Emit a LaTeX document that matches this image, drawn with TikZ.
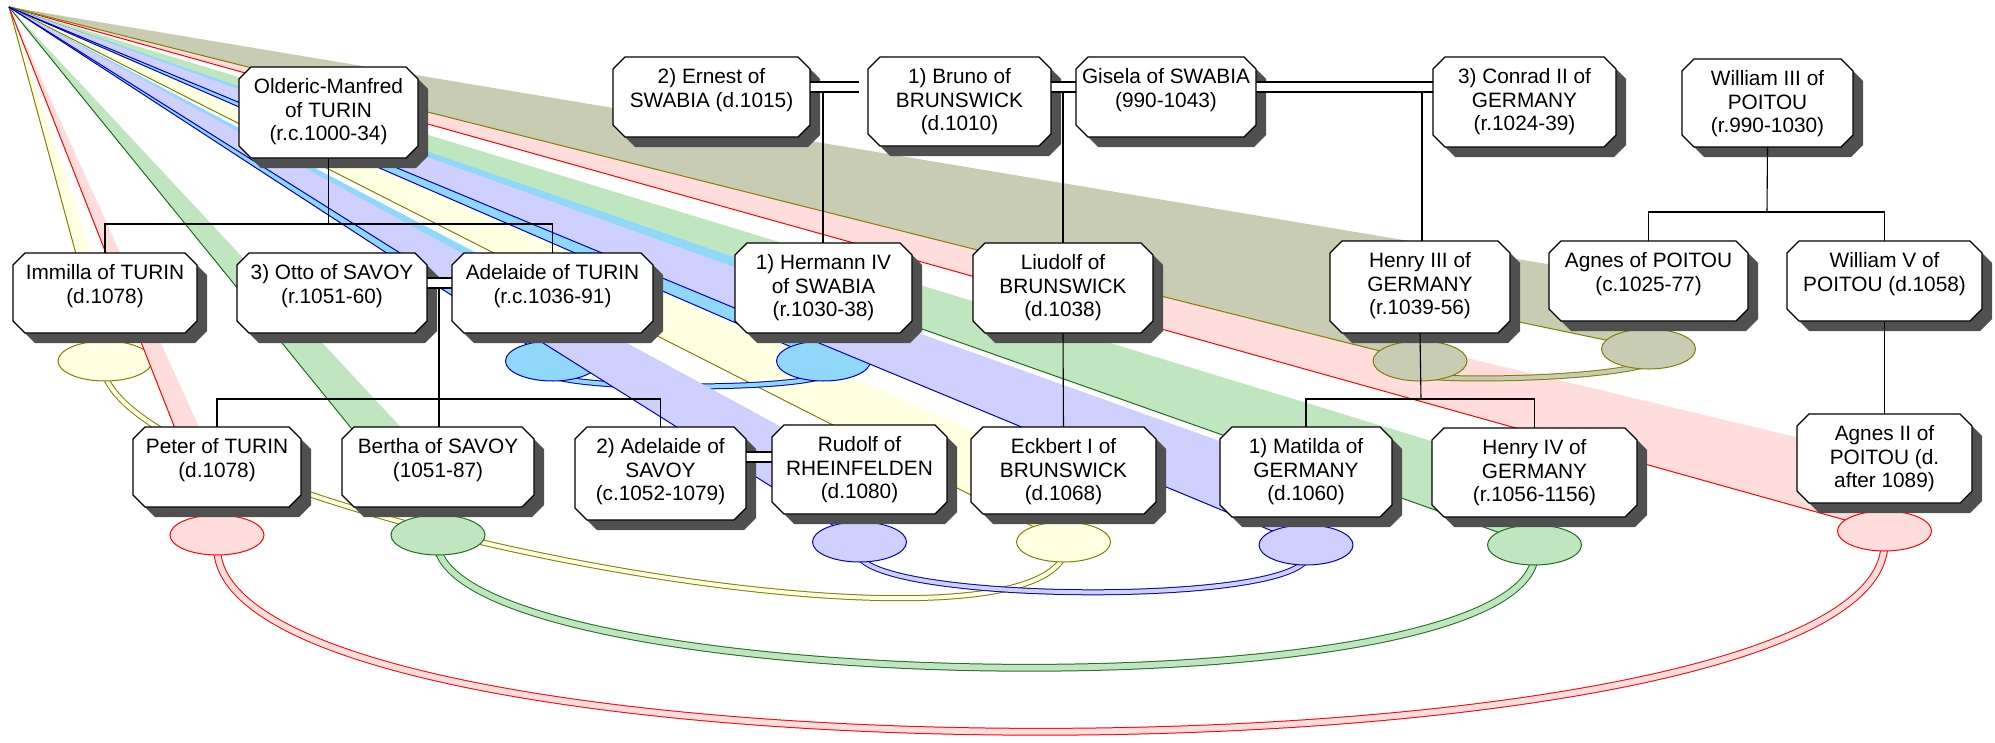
\documentclass[tikz,border=0pt]{standalone}
\usepackage{fontspec}
\setmainfont{Liberation Sans}
\usetikzlibrary{shapes.geometric,calc}
\definecolor{shadowc}{RGB}{80,80,80}
\definecolor{yelF}{RGB}{255,255,226}
\definecolor{olv}{RGB}{128,128,0}
\definecolor{khaF}{RGB}{200,204,178}
\definecolor{pinkF}{RGB}{255,221,221}
\definecolor{redD}{RGB}{255,0,0}
\definecolor{grnF}{RGB}{192,230,192}
\definecolor{grnD}{RGB}{30,110,30}
\definecolor{lavF}{RGB}{208,208,255}
\definecolor{bluD}{RGB}{0,0,190}
\definecolor{lbF}{RGB}{144,216,250}
\pgfdeclarelayer{fan}
\pgfdeclarelayer{shadow}
\pgfdeclarelayer{lines}
\pgfsetlayers{fan,shadow,lines,main}
\tikzset{
  frame/.style={rectangle, inner sep=0pt, outer sep=0pt, draw=none},
  ptext/.style={font=\fontsize{20.8pt}{23.5pt}\selectfont, align=center, inner sep=0pt, anchor=north},
  eanchor/.style={ellipse, minimum width=94pt, minimum height=40pt, inner sep=0pt, outer sep=0pt, draw=none},
  fam/.style={draw=black, line width=1.1pt},
  marr/.style={draw=black, line width=1.1pt, double=white, double distance=8.9pt},
  arcN/.style={line width=1pt, double distance=4pt},
  arcW/.style={line width=1pt, double distance=5.8pt},
}
\newcommand\octfill[4]{%
  \path[#4] ([shift={(#2+12,#3)}]#1.north west) -- ([shift={(#2-12,#3)}]#1.north east) --
  ([shift={(#2,#3+12)}]#1.north east) -- ([shift={(#2,#3-12)}]#1.south east) --
  ([shift={(#2-12,#3)}]#1.south east) -- ([shift={(#2+12,#3)}]#1.south west) --
  ([shift={(#2,#3-12)}]#1.south west) -- ([shift={(#2,#3+12)}]#1.north west) -- cycle;}
\newcommand\pers[6]{%
  \pgfmathsetmacro\pbw{#4-#2}%
  \pgfmathsetmacro\pbh{#5-#3}%
  \pgfmathsetmacro\pbx{(#2+#4)/2}%
  \pgfmathsetmacro\pby{(#3+#5)/2}%
  \node[frame, minimum width=\pbw pt, minimum height=\pbh pt] (#1) at (\pbx,\pby) {};
  \begin{pgfonlayer}{shadow}
    \octfill{#1}{10}{10}{fill=shadowc}
  \end{pgfonlayer}
  \octfill{#1}{0}{0}{fill=white, draw=black, line width=1.1pt}
  \node[ptext] (#1-t) at ([yshift=-11.5pt]#1.north) {#6};
  \node[eanchor] (#1-e) at ([yshift=-28pt]#1.south) {};
}
\newcommand\fanwedge[3]{%
  \fill[#2] (O) -- (#1.center) -- (#1-e.center) -- cycle;
  \draw[#3, line width=1pt] (O) -- (#1-e.center);}
\newcommand\blob[3]{\filldraw[fill=#2, draw=#3, line width=1pt] (#1-e.center) ellipse [x radius=47pt, y radius=20pt];}

\begin{document}
\begin{tikzpicture}[x=1pt,y=-1pt]
\useasboundingbox (0,0) rectangle (1995,742);
\coordinate (O) at (9,7);

\pers{olderic}{239}{67}{418}{158}{Olderic-Manfred\\of TURIN\\(r.c.1000-34)}
\pers{ernest}{613}{57}{810}{137}{2) Ernest of\\SWABIA (d.1015)}
\pers{bruno}{868}{57}{1051}{146}{1) Bruno of\\BRUNSWICK\\(d.1010)}
\pers{gisela}{1076}{57}{1256}{137}{Gisela of SWABIA\\(990-1043)}
\pers{conrad}{1433}{57}{1616}{147}{3) Conrad II of\\GERMANY\\(r.1024-39)}
\pers{william3}{1682}{59}{1853}{147}{William III of\\POITOU\\(r.990-1030)}
\pers{immilla}{13}{253}{197}{333}{Immilla of TURIN\\(d.1078)}
\pers{otto}{237}{253}{427}{333}{3) Otto of SAVOY\\(r.1051-60)}
\pers{adelaide}{452}{253}{653}{333}{Adelaide of TURIN\\(r.c.1036-91)}
\pers{hermann}{735}{243}{912}{333}{1) Hermann IV\\of SWABIA\\(r.1030-38)}
\pers{liudolf}{973}{243}{1153}{333}{Liudolf of\\BRUNSWICK\\(d.1038)}
\pers{henry3}{1330}{241}{1510}{333}{Henry III of\\GERMANY\\(r.1039-56)}
\pers{agnes}{1549}{241}{1748}{321}{Agnes of POITOU\\(c.1025-77)}
\pers{william5}{1787}{241}{1982}{321}{William V of\\POITOU (d.1058)}
\pers{peter}{133}{427}{301}{507}{Peter of TURIN\\(d.1078)}
\pers{bertha}{342}{427}{534}{507}{Bertha of SAVOY\\(1051-87)}
\pers{adelaide2}{575}{427}{746}{520}{2) Adelaide of\\SAVOY\\(c.1052-1079)}
\pers{rudolf}{772}{425}{947}{514}{Rudolf of\\RHEINFELDEN\\(d.1080)}
\pers{eckbert}{971}{427}{1156}{514}{Eckbert I of\\BRUNSWICK\\(d.1068)}
\pers{matilda}{1220}{427}{1392}{517}{1) Matilda of\\GERMANY\\(d.1060)}
\pers{henry4}{1432}{428}{1637}{517}{Henry IV of\\GERMANY\\(r.1056-1156)}
\pers{agnes2}{1797}{414}{1972}{503}{Agnes II of\\POITOU (d.\\after 1089)}

% junction coordinates
\coordinate (oj) at (329,224);
\coordinate (oa) at (439,288);
\coordinate (oaj) at (439,399);
\coordinate (gm) at (1076,87);
\coordinate (em) at (859,87);
\coordinate (eg) at (823,92);
\coordinate (bg) at (1063,92);
\coordinate (cg) at (1422,92);
\coordinate (hj) at (1421,399);
\coordinate (wj) at (1767,212);
\coordinate (ar) at (760,457);

\begin{pgfonlayer}{lines}
  \draw[marr] (ernest.east |- em) -- (em);
  \draw[marr] (bruno.east |- gm) -- (gm);
  \draw[marr] (gisela.east |- gm) -- (conrad.west |- gm);
  \draw[marr] (otto.east |- 0,283) -- (adelaide.west |- 0,283);
  \draw[marr] (adelaide2.east |- ar) -- (rudolf.west |- ar);
  \draw[fam] (olderic.south) -- (olderic.south |- oj);
  \draw[fam] (immilla.north) |- (oj) -| (adelaide.north);
  \draw[fam] (oa) -- (oaj);
  \draw[fam] (peter.north) |- (oaj) -| (adelaide2.north);
  \draw[fam] (oaj) -- (oaj |- bertha.north);
  \draw[fam] (eg) -- (eg |- hermann.north);
  \draw[fam] (bg) -- (bg |- liudolf.north);
  \draw[fam] (liudolf.south) -- (eckbert.north);
  \draw[fam] (cg) -- (cg |- henry3.north);
  \draw[fam] (henry3.south) -- (hj);
  \draw[fam] (matilda.north) |- (hj) -| (henry4.north);
  \draw[fam] (william3.south) -- (wj);
  \draw[fam] (agnes.north) |- (wj) -| (william5.north);
  \draw[fam] (william5.south) -- (agnes2.north);
\end{pgfonlayer}

\begin{pgfonlayer}{fan}
  % yellow
  \fanwedge{immilla}{yelF}{olv}
  \fanwedge{eckbert}{yelF}{olv}
  \draw[arcN, draw=olv, double=yelF] ([yshift=5pt]immilla-e.south) .. controls +(55,140) and +(-63,118) .. ([yshift=5pt]eckbert-e.south);
  \blob{immilla}{yelF}{olv}
  \blob{eckbert}{yelF}{olv}
  % red
  \fanwedge{peter}{pinkF}{redD}
  \fanwedge{agnes2}{pinkF}{redD}
  \draw[arcW, draw=redD, double=pinkF] ([yshift=5pt]peter-e.south) .. controls +(15,245) and +(-15,245) .. ([yshift=5pt]agnes2-e.south);
  \blob{peter}{pinkF}{redD}
  \blob{agnes2}{pinkF}{redD}
  % green
  \fanwedge{bertha}{grnF}{grnD}
  \fanwedge{henry4}{grnF}{grnD}
  \draw[arcW, draw=grnD, double=grnF] ([yshift=5pt]bertha-e.south) .. controls +(43,145) and +(-34,155) .. ([yshift=5pt]henry4-e.south);
  \blob{bertha}{grnF}{grnD}
  \blob{henry4}{grnF}{grnD}
  % khaki
  \fanwedge{agnes}{khaF}{olv}
  \fanwedge{henry3}{khaF}{olv}
  \draw[arcN, draw=olv, double=khaF] ([yshift=5pt]henry3-e.south) .. controls +(40,5) and +(-50,15) .. ([yshift=5pt]agnes-e.south);
  \blob{henry3}{khaF}{olv}
  \blob{agnes}{khaF}{olv}
  % light blue
  \fanwedge{adelaide}{lbF}{bluD}
  \fanwedge{hermann}{lbF}{bluD}
  \draw[arcN, draw=bluD, double=lbF] ([yshift=5pt]adelaide-e.south) .. controls +(40,14) and +(-40,14) .. ([yshift=5pt]hermann-e.south);
  \blob{adelaide}{lbF}{bluD}
  \blob{hermann}{lbF}{bluD}
  % lavender
  \fanwedge{rudolf}{lavF}{bluD}
  \fanwedge{matilda}{lavF}{bluD}
  \draw[arcN, draw=bluD, double=lavF] ([yshift=5pt]rudolf-e.south) .. controls +(30,45) and +(-30,45) .. ([yshift=5pt]matilda-e.south);
  \blob{rudolf}{lavF}{bluD}
  \blob{matilda}{lavF}{bluD}
\end{pgfonlayer}
\end{tikzpicture}
\end{document}
